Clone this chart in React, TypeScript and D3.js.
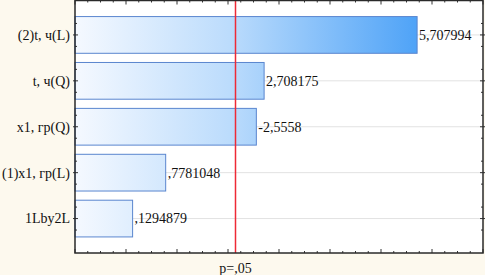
import { useEffect, useRef } from 'react';
import * as d3 from 'd3';

// Pareto chart of standardized effects
const effects = ['(2)t, ч(L)', 't, ч(Q)', 'x1, гр(Q)', '(1)x1, гр(L)', '1Lby2L'];
const tValues = [5.707994, 2.708175, -2.5558, 0.7781048, 0.1294879];
const valueLabels = ['5,707994', '2,708175', '-2,5558', ',7781048', ',1294879'];
const pCritical = 2.145;
const pLabel = 'p=,05';
const xDomain = [-1, 7];

const WIDTH = 485;
const HEIGHT = 275;

export default function App() {
  const svgRef = useRef<SVGSVGElement>(null);

  useEffect(() => {
    if (!svgRef.current) return;
    const svg = d3.select(svgRef.current);
    svg.selectAll('*').remove();

    const plot = { left: 75, right: 483, top: 0.5, bottom: 253 };
    const font = '"Liberation Serif", "Times New Roman", serif';

    svg.append('rect')
      .attr('width', WIDTH)
      .attr('height', HEIGHT)
      .attr('fill', '#fdf9ee');

    const x = d3.scaleLinear().domain(xDomain).range([plot.left, plot.right]);
    const y = d3.scaleBand()
      .domain(effects)
      .range([plot.top, plot.bottom])
      .paddingInner(0.2)
      .paddingOuter(0.35);

    // horizontal gradient shared by all bars
    const defs = svg.append('defs');
    const grad = defs.append('linearGradient')
      .attr('id', 'barGrad')
      .attr('gradientUnits', 'userSpaceOnUse')
      .attr('x1', x(-1))
      .attr('x2', x(5.7))
      .attr('y1', 0)
      .attr('y2', 0);
    grad.append('stop').attr('offset', '0%').attr('stop-color', '#f5f9ff');
    grad.append('stop').attr('offset', '45%').attr('stop-color', '#bcdcfc');
    grad.append('stop').attr('offset', '100%').attr('stop-color', '#4fa3f7');

    svg.append('rect')
      .attr('x', plot.left)
      .attr('y', plot.top)
      .attr('width', plot.right - plot.left)
      .attr('height', plot.bottom - plot.top)
      .attr('fill', '#ffffff');

    // grid lines at category centres
    svg.append('g')
      .selectAll('line')
      .data(effects)
      .enter()
      .append('line')
      .attr('x1', plot.left)
      .attr('x2', plot.right)
      .attr('y1', d => y(d)! + y.bandwidth() / 2)
      .attr('y2', d => y(d)! + y.bandwidth() / 2)
      .attr('stroke', '#e2e2e2')
      .attr('stroke-width', 1);

    // bars
    const rows = effects.map((name, i) => ({ name, value: Math.abs(tValues[i]), label: valueLabels[i] }));

    svg.append('g')
      .selectAll('rect')
      .data(rows)
      .enter()
      .append('rect')
      .attr('x', x(xDomain[0]))
      .attr('y', d => y(d.name)!)
      .attr('width', d => x(d.value) - x(xDomain[0]))
      .attr('height', y.bandwidth())
      .attr('fill', 'url(#barGrad)')
      .attr('stroke', '#5a86cf')
      .attr('stroke-width', 1);

    svg.append('g')
      .selectAll('text')
      .data(rows)
      .enter()
      .append('text')
      .attr('x', d => x(d.value) + 2)
      .attr('y', d => y(d.name)! + y.bandwidth() / 2)
      .attr('dy', '0.35em')
      .style('font-family', font)
      .style('font-size', '14px')
      .style('fill', '#111')
      .text(d => d.label);

    // category labels
    svg.append('g')
      .selectAll('text')
      .data(effects)
      .enter()
      .append('text')
      .attr('x', plot.left - 5)
      .attr('y', d => y(d)! + y.bandwidth() / 2)
      .attr('dy', '0.35em')
      .attr('text-anchor', 'end')
      .style('font-family', font)
      .style('font-size', '14px')
      .style('fill', '#111')
      .text(d => d);

    // critical value line
    const px = Math.round(x(pCritical)) + 0.5;
    svg.append('line')
      .attr('x1', px)
      .attr('x2', px)
      .attr('y1', plot.top)
      .attr('y2', plot.bottom)
      .attr('stroke', '#ee2a36')
      .attr('stroke-width', 1.5);

    svg.append('text')
      .attr('x', px)
      .attr('y', 273)
      .attr('text-anchor', 'middle')
      .style('font-family', font)
      .style('font-size', '14px')
      .style('fill', '#111')
      .text(pLabel);

    // ticks: major at integers, minor every 0.25
    const major = d3.range(xDomain[0], xDomain[1] + 0.001, 1);
    const minor = d3.range(xDomain[0], xDomain[1] + 0.001, 0.25).filter(v => !Number.isInteger(v));
    const ticks = svg.append('g').attr('stroke', '#333').attr('stroke-width', 1);
    major.forEach(v => {
      ticks.append('line').attr('x1', x(v)).attr('x2', x(v)).attr('y1', plot.bottom).attr('y2', plot.bottom - 4);
      ticks.append('line').attr('x1', x(v)).attr('x2', x(v)).attr('y1', plot.top).attr('y2', plot.top + 4);
    });
    minor.forEach(v => {
      ticks.append('line').attr('x1', x(v)).attr('x2', x(v)).attr('y1', plot.bottom).attr('y2', plot.bottom - 2);
      ticks.append('line').attr('x1', x(v)).attr('x2', x(v)).attr('y1', plot.top).attr('y2', plot.top + 2);
    });
    const step = y.step();
    effects.forEach(d => {
      const cy = y(d)! + y.bandwidth() / 2;
      ticks.append('line').attr('x1', plot.left - 2).attr('x2', plot.left + 3).attr('y1', cy).attr('y2', cy);
      ticks.append('line').attr('x1', plot.right + 2).attr('x2', plot.right - 3).attr('y1', cy).attr('y2', cy);
      [-0.25, 0.25].forEach(f => {
        const my = cy + f * step;
        ticks.append('line').attr('x1', plot.left).attr('x2', plot.left + 2).attr('y1', my).attr('y2', my);
        ticks.append('line').attr('x1', plot.right).attr('x2', plot.right - 2).attr('y1', my).attr('y2', my);
      });
    });

    // plot frame
    svg.append('rect')
      .attr('x', plot.left)
      .attr('y', plot.top)
      .attr('width', plot.right - plot.left)
      .attr('height', plot.bottom - plot.top)
      .attr('fill', 'none')
      .attr('stroke', '#2a2a2a')
      .attr('stroke-width', 1.5);
  }, []);

  return (
    <svg
      ref={svgRef}
      width={WIDTH}
      height={HEIGHT}
      style={{ position: 'fixed', left: 0, top: 0, display: 'block' }}
    />
  );
}
